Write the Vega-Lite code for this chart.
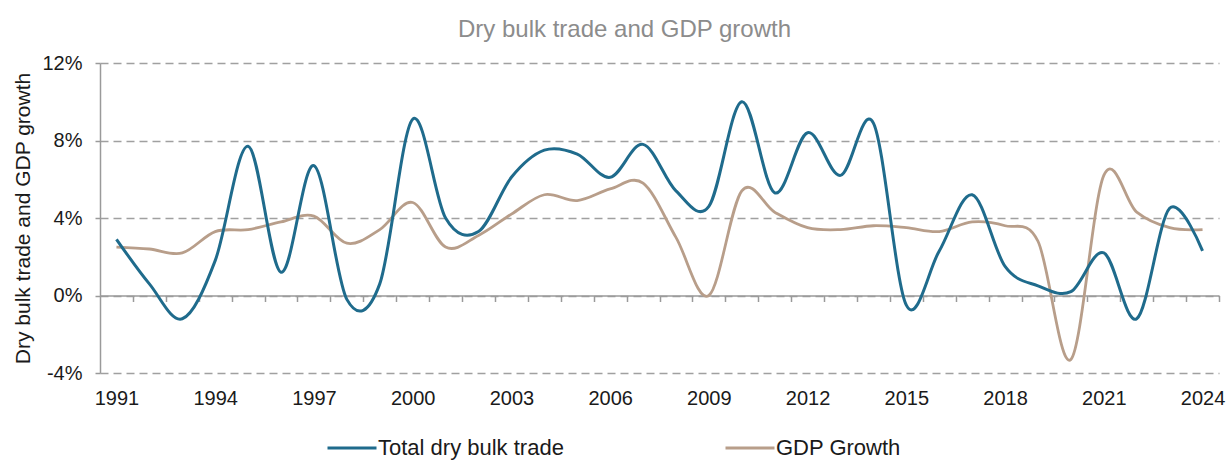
{
  "$schema": "https://vega.github.io/schema/vega-lite/v6.json",
  "width": 1119,
  "height": 310,
  "autosize": "none",
  "padding": {"left": 100, "top": 63, "right": 7, "bottom": 89},
  "background": "white",
  "config": {"font": "Liberation Sans", "view": {"stroke": null}},
  "title": {"text": "Dry bulk  trade and GDP growth", "fontSize": 24, "fontWeight": "normal", "color": "#8c8c8c", "anchor": "middle", "frame": "group", "dx": -35, "baseline": "alphabetic", "offset": -8},
  "data": {"values": [
    {"year": 1991, "series": "Total dry bulk trade", "value": 2.9},
    {"year": 1992, "series": "Total dry bulk trade", "value": 0.6},
    {"year": 1993, "series": "Total dry bulk trade", "value": -1.2},
    {"year": 1994, "series": "Total dry bulk trade", "value": 1.8},
    {"year": 1995, "series": "Total dry bulk trade", "value": 7.7},
    {"year": 1996, "series": "Total dry bulk trade", "value": 1.2},
    {"year": 1997, "series": "Total dry bulk trade", "value": 6.7},
    {"year": 1998, "series": "Total dry bulk trade", "value": -0.2},
    {"year": 1999, "series": "Total dry bulk trade", "value": 0.6},
    {"year": 2000, "series": "Total dry bulk trade", "value": 9.1},
    {"year": 2001, "series": "Total dry bulk trade", "value": 4.0},
    {"year": 2002, "series": "Total dry bulk trade", "value": 3.3},
    {"year": 2003, "series": "Total dry bulk trade", "value": 6.1},
    {"year": 2004, "series": "Total dry bulk trade", "value": 7.5},
    {"year": 2005, "series": "Total dry bulk trade", "value": 7.3},
    {"year": 2006, "series": "Total dry bulk trade", "value": 6.1},
    {"year": 2007, "series": "Total dry bulk trade", "value": 7.8},
    {"year": 2008, "series": "Total dry bulk trade", "value": 5.4},
    {"year": 2009, "series": "Total dry bulk trade", "value": 4.6},
    {"year": 2010, "series": "Total dry bulk trade", "value": 10.0},
    {"year": 2011, "series": "Total dry bulk trade", "value": 5.3},
    {"year": 2012, "series": "Total dry bulk trade", "value": 8.4},
    {"year": 2013, "series": "Total dry bulk trade", "value": 6.2},
    {"year": 2014, "series": "Total dry bulk trade", "value": 8.9},
    {"year": 2015, "series": "Total dry bulk trade", "value": -0.5},
    {"year": 2016, "series": "Total dry bulk trade", "value": 2.3},
    {"year": 2017, "series": "Total dry bulk trade", "value": 5.2},
    {"year": 2018, "series": "Total dry bulk trade", "value": 1.5},
    {"year": 2019, "series": "Total dry bulk trade", "value": 0.5},
    {"year": 2020, "series": "Total dry bulk trade", "value": 0.2},
    {"year": 2021, "series": "Total dry bulk trade", "value": 2.2},
    {"year": 2022, "series": "Total dry bulk trade", "value": -1.2},
    {"year": 2023, "series": "Total dry bulk trade", "value": 4.5},
    {"year": 2024, "series": "Total dry bulk trade", "value": 2.3},
    {"year": 1991, "series": "GDP Growth", "value": 2.5},
    {"year": 1992, "series": "GDP Growth", "value": 2.4},
    {"year": 1993, "series": "GDP Growth", "value": 2.2},
    {"year": 1994, "series": "GDP Growth", "value": 3.3},
    {"year": 1995, "series": "GDP Growth", "value": 3.4},
    {"year": 1996, "series": "GDP Growth", "value": 3.8},
    {"year": 1997, "series": "GDP Growth", "value": 4.1},
    {"year": 1998, "series": "GDP Growth", "value": 2.7},
    {"year": 1999, "series": "GDP Growth", "value": 3.4},
    {"year": 2000, "series": "GDP Growth", "value": 4.8},
    {"year": 2001, "series": "GDP Growth", "value": 2.5},
    {"year": 2002, "series": "GDP Growth", "value": 3.1},
    {"year": 2003, "series": "GDP Growth", "value": 4.2},
    {"year": 2004, "series": "GDP Growth", "value": 5.2},
    {"year": 2005, "series": "GDP Growth", "value": 4.9},
    {"year": 2006, "series": "GDP Growth", "value": 5.5},
    {"year": 2007, "series": "GDP Growth", "value": 5.8},
    {"year": 2008, "series": "GDP Growth", "value": 3.0},
    {"year": 2009, "series": "GDP Growth", "value": 0.0},
    {"year": 2010, "series": "GDP Growth", "value": 5.4},
    {"year": 2011, "series": "GDP Growth", "value": 4.3},
    {"year": 2012, "series": "GDP Growth", "value": 3.5},
    {"year": 2013, "series": "GDP Growth", "value": 3.4},
    {"year": 2014, "series": "GDP Growth", "value": 3.6},
    {"year": 2015, "series": "GDP Growth", "value": 3.5},
    {"year": 2016, "series": "GDP Growth", "value": 3.3},
    {"year": 2017, "series": "GDP Growth", "value": 3.8},
    {"year": 2018, "series": "GDP Growth", "value": 3.6},
    {"year": 2019, "series": "GDP Growth", "value": 2.8},
    {"year": 2020, "series": "GDP Growth", "value": -3.3},
    {"year": 2021, "series": "GDP Growth", "value": 6.2},
    {"year": 2022, "series": "GDP Growth", "value": 4.3},
    {"year": 2023, "series": "GDP Growth", "value": 3.5},
    {"year": 2024, "series": "GDP Growth", "value": 3.4}
  ]},
  "encoding": {
    "y": {
      "field": "value", "type": "quantitative",
      "scale": {"domain": [-4, 12], "nice": false, "zero": false},
      "axis": {
        "values": [-4, 0, 4, 8, 12],
        "labelExpr": "datum.value + '%'",
        "title": "Dry bulk trade and GDP growth",
        "titleFontSize": 21, "titleFontWeight": "normal", "titleColor": "#1a1a1a", "titlePadding": 8,
        "labelFontSize": 20, "labelColor": "#1a1a1a", "labelPadding": 13,
        "domainColor": "#9a9a9a", "domainWidth": 1.5,
        "tickColor": "#9a9a9a", "tickSize": 5, "tickWidth": 1.5,
        "grid": true, "gridColor": "#a0a0a0", "gridWidth": 1.5, "gridDash": [8, 5]
      }
    },
    "color": {
      "field": "series", "type": "nominal",
      "scale": {"domain": ["Total dry bulk trade", "GDP Growth"], "range": ["#1f6b8c", "#b89e8a"]},
      "legend": {
        "orient": "none", "legendX": 226, "legendY": 359, "direction": "horizontal", "columns": 2,
        "title": null, "symbolType": "stroke", "symbolSize": 2401, "symbolStrokeWidth": 3,
        "labelFontSize": 22, "labelColor": "#1a1a1a", "labelOffset": 0, "labelLimit": 400,
        "columnPadding": 155
      }
    }
  },
  "layer": [
    {
      "transform": [{"filter": "datum.series === 'GDP Growth'"}],
      "mark": {"type": "line", "interpolate": "cardinal", "strokeWidth": 2.8},
      "encoding": {
        "x": {
          "field": "year", "type": "quantitative",
          "scale": {"domain": [1990.5, 2024.5], "nice": false, "zero": false},
          "axis": {
            "orient": "bottom",
            "values": [1991, 1994, 1997, 2000, 2003, 2006, 2009, 2012, 2015, 2018, 2021, 2024],
            "format": "d", "title": null, "domain": false, "ticks": false, "grid": false,
            "labelFontSize": 20, "labelColor": "#1a1a1a", "labelPadding": 15,
            "labelFlush": false, "labelOverlap": false
          }
        }
      }
    },
    {
      "transform": [{"filter": "datum.series === 'Total dry bulk trade'"}],
      "mark": {"type": "line", "interpolate": "cardinal", "strokeWidth": 3},
      "encoding": {
        "x": {
          "field": "year", "type": "quantitative",
          "scale": {"domain": [1990.5, 2024.5], "nice": false, "zero": false},
          "axis": {
            "orient": "bottom", "offset": -77.5,
            "values": [1991.5, 1992.5, 1993.5, 1994.5, 1995.5, 1996.5, 1997.5, 1998.5, 1999.5, 2000.5, 2001.5, 2002.5, 2003.5, 2004.5, 2005.5, 2006.5, 2007.5, 2008.5, 2009.5, 2010.5, 2011.5, 2012.5, 2013.5, 2014.5, 2015.5, 2016.5, 2017.5, 2018.5, 2019.5, 2020.5, 2021.5, 2022.5, 2023.5, 2024.5],
            "labels": false, "title": null, "grid": false,
            "domain": true, "domainColor": "#9a9a9a", "domainWidth": 1.5,
            "ticks": true, "tickColor": "#9a9a9a", "tickSize": 6, "tickWidth": 1.5
          }
        }
      }
    }
  ],
  "resolve": {"axis": {"x": "independent"}}
}
